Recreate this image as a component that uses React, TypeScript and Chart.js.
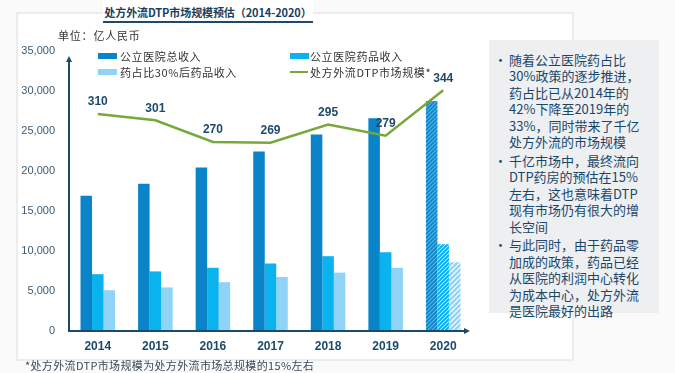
import React, { useEffect, useRef } from "react";
import { Chart, registerables } from "chart.js";

Chart.register(...registerables);

// ---- data ----
const years = ["2014", "2015", "2016", "2017", "2018", "2019", "2020"];
const totalRevenue = [16900, 18400, 20450, 22450, 24550, 26600, 28750];
const drugRevenue = [7100, 7450, 7900, 8450, 9350, 9850, 10850];
const drugRevenue30 = [5100, 5450, 6100, 6750, 7300, 7900, 8600];
const dtpMarket = [310, 301, 270, 269, 295, 279, 344];
const yTickValues = [0, 5000, 10000, 15000, 20000, 25000, 30000, 35000];
const seriesNames = ["公立医院总收入", "公立医院药品收入", "药占比30%后药品收入", "处方外流DTP市场规模*"];
const titleText = "处方外流DTP市场规模预估（2014-2020）";
const unitText = "单位：亿人民币";
const footnoteText = "*处方外流DTP市场规模为处方外流市场总规模的15%左右";
const bullets = [
  ["随着公立医院药占比", "30%政策的逐步推进，", "药占比已从2014年的", "42%下降至2019年的", "33%，同时带来了千亿", "处方外流的市场规模"],
  ["千亿市场中，最终流向", "DTP药房的预估在15%", "左右，这也意味着DTP", "现有市场仍有很大的增", "长空间"],
  ["与此同时，由于药品零", "加成的政策，药品已经", "从医院的利润中心转化", "为成本中心，处方外流", "是医院最好的出路"],
];
const forecastIndex = 6;

const C_DARK = "#0a84c8";
const C_MID = "#0ab2ee";
const C_LIGHT = "#8fd4f6";
const C_LINE = "#78a83c";
const C_AXIS = "#1d4a6a";

function hatch(fg: string, bg: string, size: number, lw: number): CanvasPattern | string {
  const c = document.createElement("canvas");
  c.width = size;
  c.height = size;
  const x = c.getContext("2d");
  if (!x) return fg;
  x.fillStyle = bg;
  x.fillRect(0, 0, size, size);
  x.strokeStyle = fg;
  x.lineWidth = lw;
  x.beginPath();
  x.moveTo(0, size);
  x.lineTo(size, 0);
  x.moveTo(-size / 2, size / 2);
  x.lineTo(size / 2, -size / 2);
  x.moveTo(size / 2, size * 1.5);
  x.lineTo(size * 1.5, size / 2);
  x.stroke();
  const p = x.createPattern(c, "repeat");
  return p || fg;
}

const axisArrows = {
  id: "axisArrows",
  afterDatasetsDraw(chart: any) {
    const { ctx, chartArea } = chart;
    const { left, right, top, bottom } = chartArea;
    ctx.save();
    ctx.strokeStyle = C_AXIS;
    ctx.fillStyle = C_AXIS;
    ctx.lineWidth = 2;
    const ax = left;
    const tipY = top + 5;
    const tipX = right - 2;
    ctx.beginPath();
    ctx.moveTo(ax, bottom);
    ctx.lineTo(ax, tipY + 4);
    ctx.moveTo(ax - 1, bottom);
    ctx.lineTo(tipX - 4, bottom);
    ctx.stroke();
    ctx.beginPath();
    ctx.moveTo(ax, tipY);
    ctx.lineTo(ax - 3, tipY + 6);
    ctx.lineTo(ax + 3, tipY + 6);
    ctx.closePath();
    ctx.fill();
    ctx.beginPath();
    ctx.moveTo(tipX, bottom);
    ctx.lineTo(tipX - 6, bottom - 3);
    ctx.lineTo(tipX - 6, bottom + 3);
    ctx.closePath();
    ctx.fill();
    ctx.restore();
  },
};

const lineLabels = {
  id: "lineLabels",
  afterDatasetsDraw(chart: any) {
    const { ctx } = chart;
    const meta = chart.getDatasetMeta(3);
    const ds = chart.data.datasets[3];
    ctx.save();
    ctx.font = "bold 12px Arial, 'Liberation Sans', sans-serif";
    ctx.fillStyle = C_AXIS;
    ctx.textAlign = "center";
    ctx.textBaseline = "middle";
    meta.data.forEach((pt: any, i: number) => {
      ctx.fillText(String(ds.data[i]), pt.x, pt.y - 12);
    });
    ctx.restore();
  },
};

export default function App() {
  const ref = useRef<HTMLCanvasElement | null>(null);

  useEffect(() => {
    if (!ref.current) return;
    const pDark = hatch(C_DARK, "#5ab4e6", 4, 1.6);
    const pMid = hatch(C_MID, "#ffffff", 4, 2.2);
    const pLight = hatch(C_LIGHT, "#ffffff", 5, 2.4);
    const pick = (normal: any, fc: any) => (c: any) => (c.dataIndex === forecastIndex ? fc : normal);

    const chart = new Chart(ref.current, {
      type: "bar",
      data: {
        labels: years,
        datasets: [
          { type: "bar", label: seriesNames[0], data: totalRevenue, backgroundColor: pick(C_DARK, pDark), yAxisID: "y", order: 1 },
          { type: "bar", label: seriesNames[1], data: drugRevenue, backgroundColor: pick(C_MID, pMid), yAxisID: "y", order: 1 },
          { type: "bar", label: seriesNames[2], data: drugRevenue30, backgroundColor: pick(C_LIGHT, pLight), yAxisID: "y", order: 1 },
          {
            type: "line",
            label: seriesNames[3],
            data: dtpMarket,
            borderColor: C_LINE,
            borderWidth: 2.5,
            pointRadius: 0,
            tension: 0,
            yAxisID: "y1",
            order: 0,
          },
        ] as any,
      },
      options: {
        responsive: false,
        animation: false,
        layout: { padding: { top: 51, right: 8, bottom: 18, left: 0 } },
        datasets: { bar: { categoryPercentage: 0.6, barPercentage: 1.0 } } as any,
        plugins: { legend: { display: false }, tooltip: { enabled: false }, title: { display: false } },
        scales: {
          x: {
            offset: true,
            grid: { display: false, drawTicks: false },
            border: { display: false },
            ticks: {
              padding: 8,
              color: C_AXIS,
              font: { family: "Arial, 'Liberation Sans', sans-serif", size: 12, weight: "bold" },
            },
            afterFit: (s: any) => {
              s.height = 24;
            },
          },
          y: {
            min: 0,
            max: 35000,
            grid: { display: false, drawTicks: false },
            border: { display: false },
            ticks: {
              padding: 14,
              color: "#3f5a74",
              font: { family: "Arial, 'Liberation Sans', sans-serif", size: 11 },
              callback: (v: any) => Number(v).toLocaleString("en-US"),
            },
            afterBuildTicks: (s: any) => {
              s.ticks = yTickValues.map((v) => ({ value: v }));
            },
            afterFit: (s: any) => {
              s.width = 69;
            },
          },
          y1: { display: false, min: 0, max: 400, position: "right" },
        },
      } as any,
      plugins: [axisArrows, lineLabels],
    });
    return () => chart.destroy();
  }, []);

  const legendText: React.CSSProperties = {
    position: "absolute",
    fontSize: 11,
    letterSpacing: "0.6px",
    color: "#333",
    lineHeight: "14px",
    whiteSpace: "nowrap",
  };
  const legendBox = (left: number, top: number, color: string): React.CSSProperties => ({
    position: "absolute",
    left,
    top,
    width: 19,
    height: 6,
    background: color,
  });

  let lineTop = 52;
  const bulletRows: React.ReactNode[] = [];
  bullets.forEach((b, bi) => {
    if (bi > 0) lineTop += 2.5;
    b.forEach((ln, li) => {
      if (li === 0) {
        bulletRows.push(
          <div key={`d${bi}`} style={{ position: "absolute", left: 494, top: lineTop, fontSize: 13, lineHeight: "16px", color: "#1e4b6e" }}>
            •
          </div>
        );
      }
      bulletRows.push(
        <div key={`l${bi}-${li}`} style={{ position: "absolute", left: 509, top: lineTop, fontSize: 13, lineHeight: "16px", color: "#1a4769", whiteSpace: "nowrap" }}>
          {ln}
        </div>
      );
      lineTop += 16.4;
    });
  });

  return (
    <div
      style={{
        position: "absolute",
        left: 0,
        top: 0,
        width: 675,
        height: 373,
        background: "#fafafa",
        overflow: "hidden",
        fontFamily: "'Noto Sans CJK SC', 'Noto Sans', sans-serif",
      }}
    >
      <div
        style={{
          position: "absolute",
          left: 16,
          top: 12,
          width: 558,
          height: 349,
          boxSizing: "border-box",
          border: "2px solid #ececec",
          background: "#ffffff",
        }}
      />
      <canvas ref={ref} width={480} height={373} style={{ position: "absolute", left: 0, top: 0, width: 480, height: 373 }} />
      <div
        style={{
          position: "absolute",
          left: 103,
          top: 0,
          width: 210,
          height: 21,
          background: "#ffffff",
          borderBottom: `2px solid ${C_AXIS}`,
          textAlign: "center",
          fontSize: 11,
          fontWeight: "bold",
          letterSpacing: "-0.1px",
          lineHeight: "24px",
          color: "#1b3f5e",
          whiteSpace: "nowrap",
        }}
      >
        {titleText}
      </div>
      <div style={{ position: "absolute", left: 58, top: 28, fontSize: 11, letterSpacing: "0.8px", lineHeight: "14px", color: "#333" }}>
        {unitText}
      </div>

      <div style={legendBox(98, 53, C_DARK)} />
      <div style={{ ...legendText, left: 120, top: 49 }}>{seriesNames[0]}</div>
      <div style={legendBox(290, 53, C_MID)} />
      <div style={{ ...legendText, left: 310, top: 49 }}>{seriesNames[1]}</div>
      <div style={legendBox(98, 69, C_LIGHT)} />
      <div style={{ ...legendText, left: 120, top: 65 }}>{seriesNames[2]}</div>
      <div style={{ position: "absolute", left: 290, top: 71, width: 18, height: 2, background: C_LINE }} />
      <div style={{ ...legendText, left: 310, top: 65 }}>{seriesNames[3]}</div>

      <div style={{ position: "absolute", left: 25, top: 358, fontSize: 11, letterSpacing: "0.35px", lineHeight: "14px", color: "#3a4a5a", whiteSpace: "nowrap" }}>
        {footnoteText}
      </div>

      <div style={{ position: "absolute", left: 489, top: 40, width: 170, height: 273, background: "#eeeff1" }} />
      {bulletRows}
    </div>
  );
}
